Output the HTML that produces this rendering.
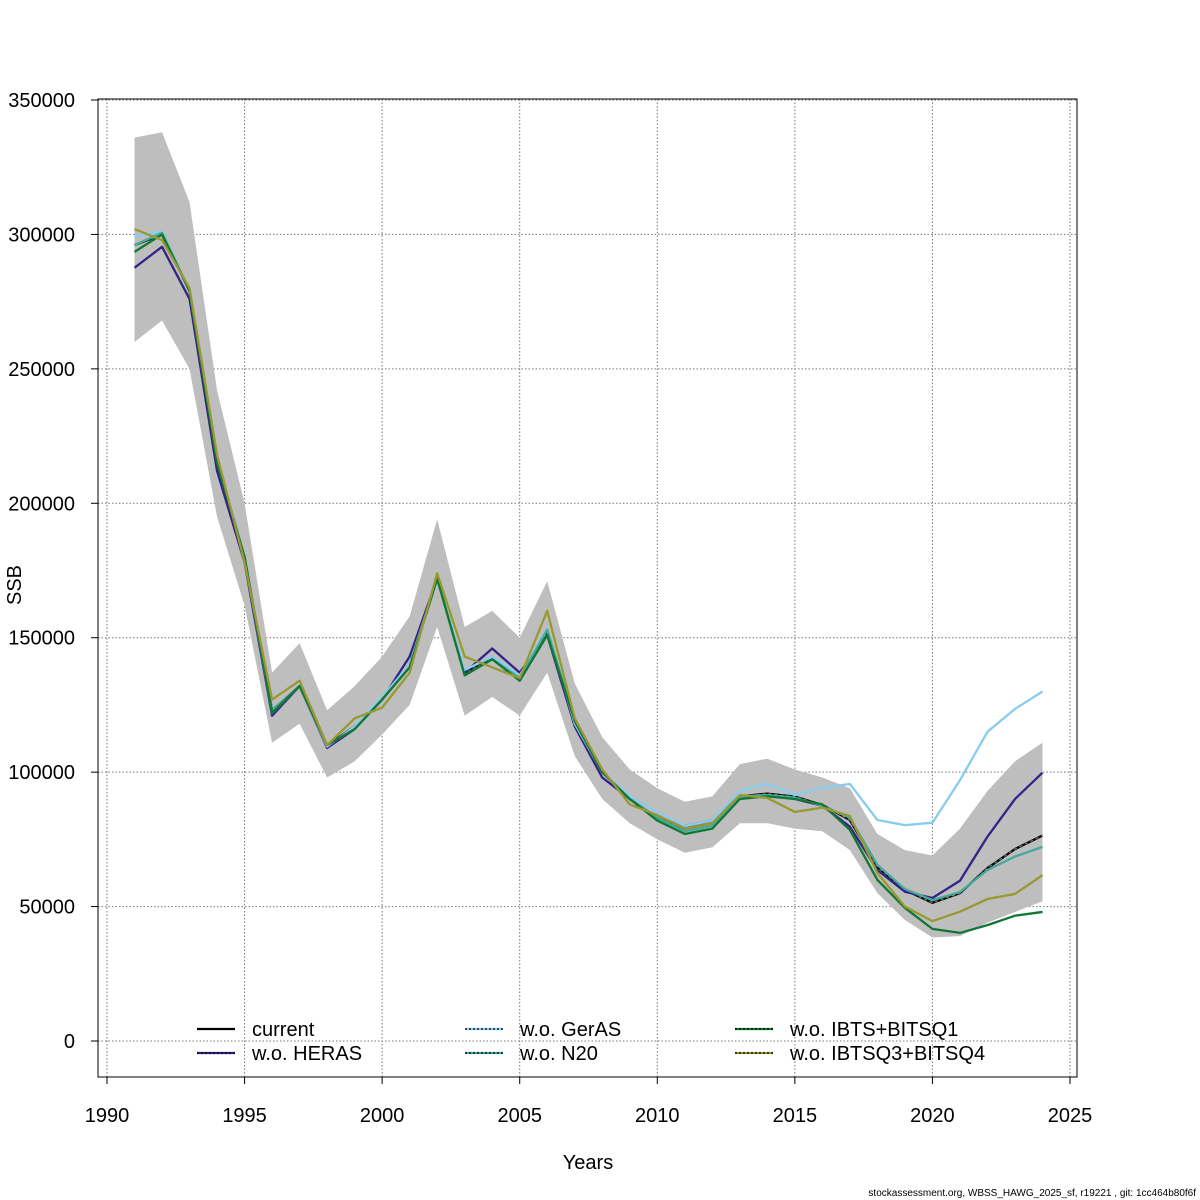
<!DOCTYPE html>
<html><head><meta charset="utf-8"><style>
body{margin:0;background:#fff}
svg{display:block;font-family:"Liberation Sans",Arial,sans-serif}
</style></head><body>
<svg id="chart" width="1200" height="1200" viewBox="0 0 1200 1200">
<rect width="1200" height="1200" fill="#fff"/>
<g id="grid"></g>
<g id="band"></g>
<g id="lines"></g>
<g id="axes"></g>
<g id="legend"></g>
<text x="588" y="1169" font-size="20" text-anchor="middle">Years</text>
<text x="21" y="585" font-size="20" text-anchor="middle" transform="rotate(-90 21 585)">SSB</text>
<text x="1196" y="1196" font-size="10" text-anchor="end">stockassessment.org, WBSS_HAWG_2025_sf, r19221 , git: 1cc464b80f6f</text>
</svg>
<script>
const years=[1991,1992,1993,1994,1995,1996,1997,1998,1999,2000,2001,2002,2003,2004,2005,2006,2007,2008,2009,2010,2011,2012,2013,2014,2015,2016,2017,2018,2019,2020,2021,2022,2023,2024];
const upper=[336000,338000,312000,242000,200000,137000,148000,123000,132000,143000,158000,194000,154000,160000,150000,171000,133000,113000,101000,94000,89000,91000,103000,105000,101000,98000,94000,77000,71000,69000,79000,93000,104000,111000];
const lower=[260000,268000,250000,195000,162000,111000,118000,98000,104000,114000,125000,154000,121000,128000,121000,137000,106000,90000,81000,75000,70000,72000,81000,81000,79000,78000,71000,55000,45000,38500,39000,44000,48000,52000];
const current=[296000,300000,279000,215000,180000,123000,132000,110000,117000,127000,140000,172000,137000,142000,135000,152000,118000,100000,90000,83000,79000,81000,91000,92000,90900,87800,82200,64800,56200,51400,55000,64300,71400,76400];
const heras=[287600,295400,276000,212000,178000,121000,132000,109000,116000,127000,143000,172000,137000,146000,137000,151000,117000,98000,90000,83000,80000,82000,91000,91500,90000,87500,79700,63600,55500,53200,59600,76000,90000,99800];
const geras=[299400,301000,279300,216000,180000,122000,132000,109500,117000,128000,140000,172000,138000,143000,136000,153000,118000,100000,91000,85000,80000,82000,93000,95600,91500,94200,95600,82200,80300,81200,97000,115000,123500,130000];
const n20=[296000,300600,279300,216000,180000,123000,132000,110000,116000,127000,139000,172000,136000,142000,135000,153000,119000,100000,90000,83000,78000,80000,91000,91500,90500,87500,83000,65500,56500,52400,55400,63600,68600,72200];
const ibts=[293500,300000,279000,215000,180000,122000,132000,110000,116000,127000,139000,172000,136000,142000,134000,151000,119000,100000,90000,82000,77000,79000,90000,91000,90000,88000,78500,59900,49500,41700,40200,43100,46600,48000];
const ibtsq3=[302000,297900,280000,218000,178000,127000,134000,110000,120000,124000,137000,174000,143000,139000,135000,160000,120000,101000,88000,84000,79000,81000,91500,90400,85200,86800,83700,62500,50000,44600,48100,52800,54700,61700];
const xTicks=[1990,1995,2000,2005,2010,2015,2020,2025];
const yTicks=[0,50000,100000,150000,200000,250000,300000,350000];
const seriesNames=["current","w.o. HERAS","w.o. GerAS","w.o. N20","w.o. IBTS+BITSQ1","w.o. IBTSQ3+BITSQ4"];

const NS="http://www.w3.org/2000/svg";
function X(y){return 107+(y-1990)*963/35;}
function Y(v){return 1041-v*941/350000;}
function mk(tag,attrs,parent){const e=document.createElementNS(NS,tag);for(const k in attrs)e.setAttribute(k,attrs[k]);parent.appendChild(e);return e;}
const grid=document.getElementById('grid'),band=document.getElementById('band'),lines=document.getElementById('lines'),axes=document.getElementById('axes'),legend=document.getElementById('legend');

xTicks.forEach(t=>{
  const l=mk('line',{x1:X(t),x2:X(t),y1:99,y2:1077,stroke:'#777','stroke-width':1,'stroke-dasharray':'1.5,2'},grid);
  
  
  const tk=mk('line',{x1:X(t),x2:X(t),y1:1077,y2:1084,stroke:'#000'},axes);
  
  
  const tx=mk('text',{x:X(t),y:1122,'font-size':20,'text-anchor':'middle'},axes);tx.textContent=t;
  
  
});
yTicks.forEach(t=>{
  const l=mk('line',{x1:98,x2:1077,y1:Y(t),y2:Y(t),stroke:'#777','stroke-width':1,'stroke-dasharray':'1.5,2'},grid);
  
  
  const tk=mk('line',{x1:91,x2:98,y1:Y(t),y2:Y(t),stroke:'#000'},axes);
  
  
  const tx=mk('text',{x:75,y:Y(t)+7,'font-size':20,'text-anchor':'end'},axes);tx.textContent=t;
  
  
});
const box=mk('rect',{x:98,y:99,width:979,height:978,fill:'none',stroke:'#000'},axes);



let pts=years.map((y,i)=>X(y)+','+Y(upper[i]));
for(let i=years.length-1;i>=0;i--)pts.push(X(years[i])+','+Y(lower[i]));
const poly=mk('polygon',{points:pts.join(' '),fill:'#bebebe',stroke:'none'},band);



const series=[[current,'#000000','current-line'],[heras,'#332288','heras-line'],[geras,'#88ccee','geras-line'],[n20,'#44aa99','n20-line'],[ibts,'#117733','ibts-line'],[ibtsq3,'#999933','ibtsq3-line']];
series.forEach((s,k)=>{
  const p=mk('polyline',{points:years.map((y,i)=>X(y)+','+Y(s[0][i])).join(' '),fill:'none',stroke:s[1],'stroke-width':2.3,'stroke-linejoin':'round'},lines);
  
  
  if(k===0){
    const cur=mk('polyline',{points:years.map((y,i)=>X(y)+','+Y(current[i])).join(' '),fill:'none',stroke:'#777','stroke-width':1.2,'stroke-dasharray':'3,3'},lines);
    
    
  }
});

const lpos=[[197,1029],[197,1053],[465,1029],[465,1053],[735,1029],[735,1053]];
seriesNames.forEach((n,i)=>{
  const [lx,ly]=lpos[i];
  const g=mk('g',{},legend);
  
  
  mk('line',{x1:lx,x2:lx+38,y1:ly,y2:ly,stroke:series[i][1],'stroke-width':2.3},g);
  if(i>0)mk('line',{x1:lx,x2:lx+38,y1:ly,y2:ly,stroke:'#000','stroke-width':1.2,'stroke-dasharray':'2,2'},g);
  const t=mk('text',{x:lx+55,y:ly+7,'font-size':20},g);t.textContent=n;
});
</script>
</body></html>
